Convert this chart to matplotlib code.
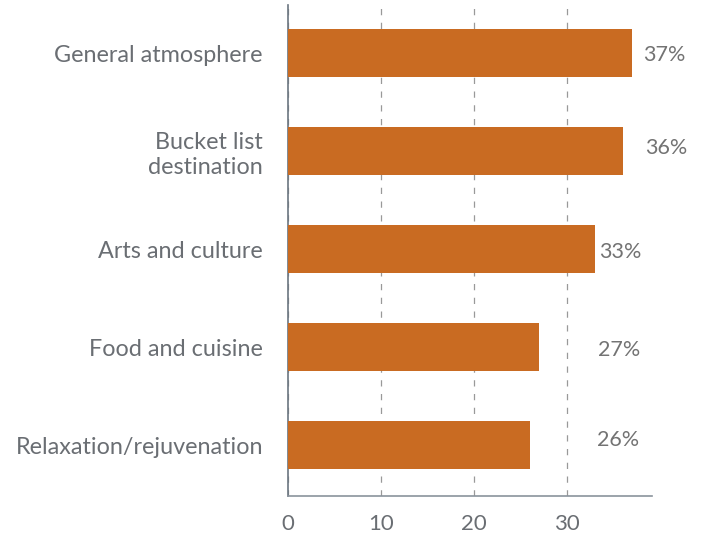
import matplotlib.pyplot as plt

# Datos
categorias = ['General atmosphere', 'Bucket list\ndestination', 'Arts and culture',
              'Food and cuisine', 'Relaxation/rejuvenation']
valores = [37, 36, 33, 27, 26]
etiquetas = ['37%', '36%', '33%', '27%', '26%']

# Posición de cada etiqueta (como en el original)
pos_etiqueta = [38.1, 38.4, 33.4, 33.3, 33.2]
desp_etiqueta = [0.02, -0.03, 0.03, 0.03, -0.05]

plt.rcParams['font.family'] = ['Lato', 'DejaVu Sans']

fig = plt.figure(figsize=(7.03, 5.37), dpi=100)
ax = fig.add_axes([288 / 703, 41 / 537, 364 / 703, 491 / 537])

y = range(len(categorias))
ax.barh(y, valores, height=0.49, color='#C96B22', zorder=3)

for i, (x, dy, txt) in enumerate(zip(pos_etiqueta, desp_etiqueta, etiquetas)):
    ax.text(x, i + dy, txt, va='center', ha='left', fontsize=15.5,
            color='#737373')

ax.set_xlim(0, 39.1)
ax.set_ylim(4.52, -0.49)
ax.set_yticks(list(y))
ax.set_yticklabels(categorias, fontsize=16.8, color='#6a6e73', linespacing=1.25)
ax.set_xticks([0, 10, 20, 30])
ax.set_xticklabels(['0', '10', '20', '30'], fontsize=16, color='#6a6e73')
ax.tick_params(length=0, pad=13)
ax.tick_params(axis='y', pad=18)

ax.grid(axis='x', linestyle=(0, (5, 6)), color='#999999', linewidth=0.9, zorder=0)
for s in ['top', 'right']:
    ax.spines[s].set_visible(False)
ax.spines['left'].set_color('#6b7580')
ax.spines['bottom'].set_color('#8a939c')
ax.spines['left'].set_linewidth(1.2)
ax.spines['bottom'].set_linewidth(1.2)

plt.savefig('out.png', dpi=100)
